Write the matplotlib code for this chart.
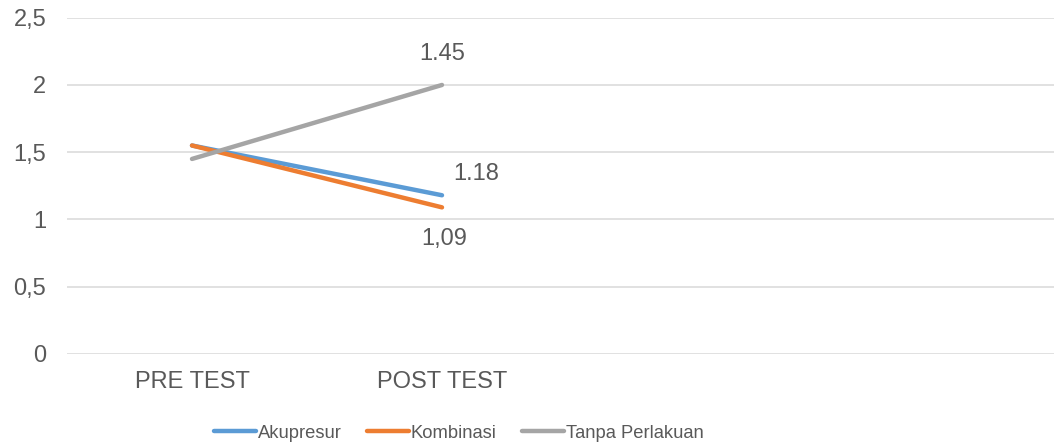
import matplotlib
matplotlib.use("Agg")
import matplotlib.pyplot as plt
from matplotlib.ticker import FixedLocator, FuncFormatter

plt.rcParams["font.family"] = ["Liberation Sans", "DejaVu Sans"]

categories = ["PRE TEST", "POST TEST", "", ""]
akupresur = [1.55, 1.18]
kombinasi = [1.55, 1.09]
tanpa_perlakuan = [1.45, 2.0]
y_ticks = [0, 0.5, 1, 1.5, 2, 2.5]

TEXT = "#595959"
W, H = 1054, 448

fig = plt.figure(figsize=(W / 100, H / 100), dpi=100)
ax = fig.add_axes([67 / W, 1 - 354 / H, 987 / W, (354 - 17.7) / H])

x = list(range(len(categories)))
ax.plot(x[:2], akupresur, color="#5B9BD5", lw=3.2, solid_capstyle="round", label="Akupresur", zorder=3)
ax.plot(x[:2], kombinasi, color="#ED7D31", lw=3.2, solid_capstyle="round", label="Kombinasi", zorder=3)
ax.plot(x[:2], tanpa_perlakuan, color="#A5A5A5", lw=3.2, solid_capstyle="round", label="Tanpa Perlakuan", zorder=3)

fs = 17
ax.annotate("1.45", (x[1], tanpa_perlakuan[1]), xytext=(0, 22.5), textcoords="offset points",
            ha="center", va="center", fontsize=fs, color=TEXT)
ax.annotate("1.18", (x[1], akupresur[1]), xytext=(24.5, 15.5), textcoords="offset points",
            ha="center", va="center", fontsize=fs, color=TEXT)
ax.annotate("1,09", (x[1], kombinasi[1]), xytext=(1.5, -23), textcoords="offset points",
            ha="center", va="center", fontsize=fs, color=TEXT)

ax.set_xlim(-0.5, 3.5 - 13 / 250)
ax.set_ylim(0, 2.5)
ax.set_xticks(x)
ax.set_xticklabels(categories)
ax.yaxis.set_major_locator(FixedLocator(y_ticks))
ax.yaxis.set_major_formatter(FuncFormatter(lambda v, p: f"{v:g}".replace(".", ",")))
ax.tick_params(axis="both", length=0, labelsize=fs, labelcolor=TEXT)
ax.tick_params(axis="y", pad=15)
ax.tick_params(axis="x", pad=12.5)
ax.grid(axis="y", color="#D9D9D9", lw=1.1)
ax.set_axisbelow(True)
for s in ax.spines.values():
    s.set_visible(False)

fig.legend(loc="center", bbox_to_anchor=(459 / W, 1 - 433 / H), ncol=3, frameon=False,
           fontsize=13.2, handlelength=2.25, handletextpad=0.12, columnspacing=1.4,
           labelcolor=TEXT)

fig.savefig("out.png", dpi=100)
